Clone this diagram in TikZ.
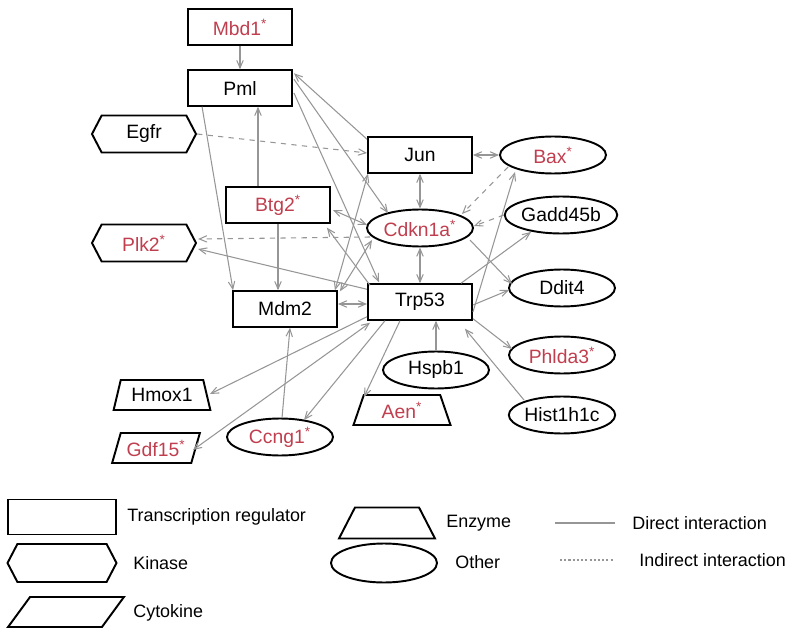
\documentclass[tikz,border=0pt]{standalone}
\usepackage{fontspec}
\setmainfont{Liberation Sans}
\usetikzlibrary{shapes.geometric, shapes.symbols, arrows, calc}
\definecolor{hit}{RGB}{192,62,78}
\definecolor{edgegray}{RGB}{150,150,150}
\newcommand{\dereg}[1]{\textcolor{hit}{#1\textsuperscript{*}}}
\tikzstyle{treg} = [rectangle, draw=black, line width=1.1pt, minimum width=2.08cm, minimum height=0.71cm, text centered]
\tikzstyle{kinase} = [signal, signal to=west and east, signal pointer angle=125, draw=black, line width=1.1pt, minimum width=2.08cm, minimum height=0.74cm]
\tikzstyle{enzyme} = [trapezium, trapezium left angle=76, trapezium right angle=76, trapezium stretches=true, draw=black, line width=1.1pt, minimum width=1.94cm, minimum height=0.6cm]
\tikzstyle{cytokine} = [trapezium, trapezium left angle=73, trapezium right angle=107, trapezium stretches=true, draw=black, line width=1.1pt, minimum width=1.68cm, minimum height=0.6cm]
\tikzstyle{other} = [ellipse, draw=black, line width=1.1pt, minimum width=2.12cm, minimum height=0.74cm, inner sep=0pt]
\tikzstyle{legtext} = [anchor=west, inner xsep=0pt, font=\fontsize{10.2}{12}\selectfont]
\tikzstyle{link} = [edgegray, line width=0.6pt, ->, >=angle 45]
\tikzstyle{blink} = [link, <->]
\tikzstyle{ilink} = [link, dashed]

\begin{document}
\begin{tikzpicture}[x=0.02cm, y=-0.02cm, font=\fontsize{11}{13}\selectfont]
    \useasboundingbox (0,0) rectangle (791,628);
    % genes
    \node (mbd) [treg] at (240,27) {\dereg{Mbd1}};
    \node (pml) [treg] at (240,88) {Pml};
    \node (egf) [kinase] at (144,134) {Egfr};
    \node (jun) [treg] at (420,155) {Jun};
    \node (bax) [other] at (553,155) {\dereg{Bax}};
    \node (btg) [treg] at (278,205) {\dereg{Btg2}};
    \node (cdk) [other] at (420,228) {\dereg{Cdkn1a}};
    \node (gad) [other] at (561,215) {Gadd45b};
    \node (plk) [kinase] at (144,243) {\dereg{Plk2}};
    \node (mdm) [treg] at (285,309) {Mdm2};
    \node (trp) [treg] at (420,302) {Trp53};
    \node (ddi) [other] at (562,288) {Ddit4};
    \node (phl) [other] at (562,355) {\dereg{Phlda3}};
    \node (hsp) [other] at (436,370) {Hspb1};
    \node (his) [other] at (562,415) {Hist1h1c};
    \node (aen) [enzyme] at (402,410) {\dereg{Aen}};
    \node (hmo) [enzyme] at (162,395) {Hmox1};
    \node (gdf) [cytokine] at (156,448) {\dereg{Gdf15}};
    \node (ccg) [other] at (280,437) {\dereg{Ccng1}};

    % interactions
    \draw [link] (mbd) -- (pml);
    \draw [link] ($(btg.north)+(-20,0)$) -- ($(pml.south)+(18,0)$);
    \draw [link] ($(pml.south west)+(15,0)$) -- ($(mdm.north west)+(1,0)$);
    \draw [link] (btg.south) -- (btg.south |- mdm.north);
    \draw [link] ($(jun.north west)+(0,3)$) -- ($(pml.north east)+(1,4)$);
    \draw [link] ($(pml.north east)+(1,10)$) -- ($(cdk)+(-32,-15)$);
    \draw [link] ($(pml.east)+(1,5)$) -- ($(trp.north west)+(12,-1)$);
    \draw [blink] ($(mdm.north east)+(-3,0)$) -- ($(jun.south west)+(1,0)$);
    \draw [blink] ($(mdm.north east)+(2,1)$) -- ($(cdk)+(-48,12)$);
    \draw [blink] ($(btg.east)+(2,5)$) -- ($(cdk.west)+(1,-3)$);
    \draw [link] ($(trp.north west)+(3,2)$) -- ($(btg.south east)+(-4,4)$);
    \draw [link] ($(trp.north west)+(0,6)$) -- ($(plk.east)+(1,6)$);
    \draw [ilink] ($(cdk)+(-50,9)$) -- ($(plk.east)+(1,-4)$);
    \draw [ilink] (egf.east) -- ($(jun.west)+(0,-2)$);
    \draw [blink] (jun) -- (bax);
    \draw [blink] (jun) -- (cdk);
    \draw [blink] (cdk) -- (trp);
    \draw [ilink] ($(bax)+(-45,12)$) -- ($(cdk)+(42,-14)$);
    \draw [ilink] (gad.west) -- ($(cdk.east)+(0,-2)$);
    \draw [link] ($(cdk)+(50,12)$) -- ($(ddi)+(-50,-4)$);
    \draw [link] ($(trp.east)+(0,10)$) -- ($(bax)+(-38,17)$);
    \draw [link] ($(trp.north east)+(-12,0)$) -- ($(gad)+(-30,17)$);
    \draw [link] ($(trp.east)+(0,3)$) -- ($(ddi.west)+(1,2)$);
    \draw [link] ($(trp.south east)+(0,-2)$) -- ($(phl)+(-50,-6)$);
    \draw [link] ($(his)+(-38,-15)$) -- ($(trp.south east)+(-8,8)$);
    \draw [link] (hsp.north) -- (hsp.north |- trp.south);
    \draw [link] ($(trp.south)+(-20,0)$) -- ($(aen)+(-38,-13)$);
    \draw [link] ($(trp.south)+(-35,0)$) -- ($(ccg)+(24,-17)$);
    \draw [link] ($(ccg)+(2,-19)$) -- ($(mdm.south)+(5,0)$);
    \draw [link] ($(trp.south west)+(0,-4)$) -- ($(hmo)+(48,-1)$);
    \draw [blink] ($(trp.south west)+(3,2)$) -- ($(gdf)+(37,2)$);
    \draw [blink] ($(mdm.east)+(0,-5)$) -- ($(trp.west)+(0,2)$);

    % legend
    \node (lreg) [treg, minimum width=2.16cm, minimum height=0.7cm] at (62,517) {};
    \node (lregt) [legtext] at (127,517) {Transcription regulator};
    \node (lkin) [kinase, minimum width=2.18cm, minimum height=0.76cm] at (62,563) {};
    \node (lkint) [legtext] at (133,563) {Kinase};
    \node (lcyt) [cytokine, minimum width=2.32cm, minimum height=0.6cm] at (66,612) {};
    \node (lcytt) [legtext] at (133,613) {Cytokine};
    \node (lenz) [enzyme, minimum width=1.92cm, minimum height=0.62cm] at (387,523) {};
    \node (lenzt) [legtext] at (446,523) {Enzyme};
    \node (loth) [other, minimum width=2.12cm, minimum height=0.78cm] at (384,563) {};
    \node (lotht) [legtext] at (455,562) {Other};
    \coordinate (da) at (555,523);
    \coordinate (db) at (615,523);
    \draw [edgegray, line width=0.6pt] (da) -- (db);
    \node (dt) [legtext] at (632,523) {Direct interaction};
    \coordinate (ia) at (560,560);
    \coordinate (ib) at (614,560);
    \draw [edgegray, line width=0.6pt, dash pattern=on 1.2pt off 1.2pt] (ia) -- (ib);
    \node (it) [legtext] at (639,560) {Indirect interaction};
\end{tikzpicture}
\end{document}
